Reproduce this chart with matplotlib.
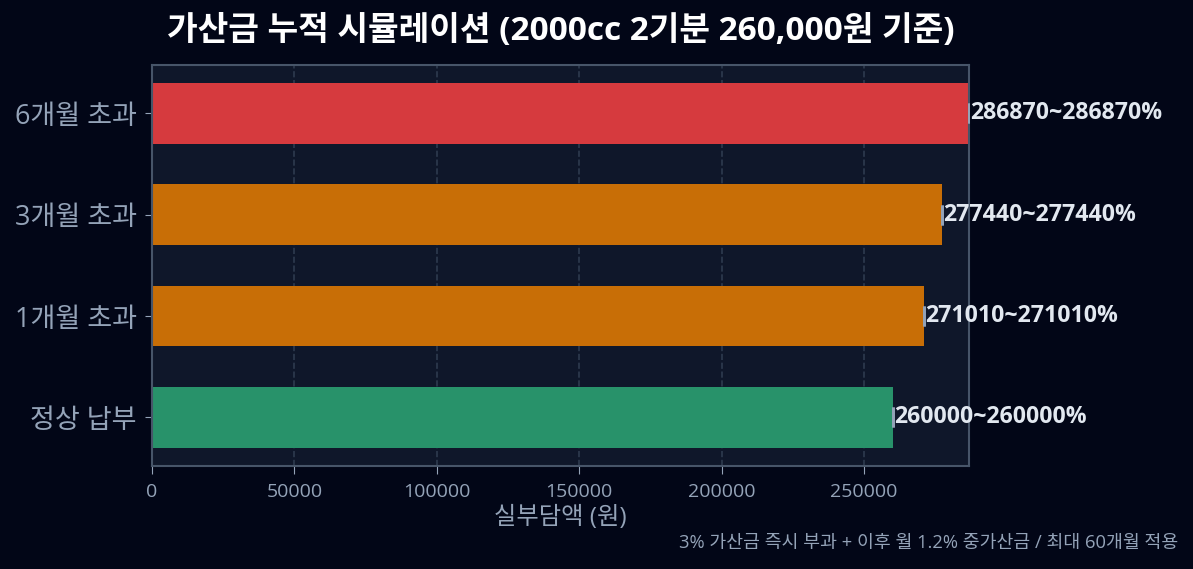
import numpy as np
import matplotlib
matplotlib.use('Agg')
import matplotlib.pyplot as plt

plt.rcParams['font.family'] = ['Open Sans', 'Noto Sans CJK KR', 'DejaVu Sans']

# 데이터
categories = ['정상 납부', '1개월 초과', '3개월 초과', '6개월 초과']
amounts = [260000, 271010, 277440, 286870]
low = [260000, 271010, 277440, 286870]
high = [260000, 271010, 277440, 286870]
colors = ['#28926a', '#c86e06', '#c86e06', '#d63a3e']

BG = '#020617'
AX_BG = '#0f172a'
SPINE = '#475569'
TXT = '#94a3b8'

fig, ax = plt.subplots(figsize=(11.93, 5.69), dpi=100)
fig.patch.set_facecolor(BG)
ax.set_facecolor(AX_BG)

y = np.arange(len(categories))
xerr = [np.array(amounts) - np.array(low), np.array(high) - np.array(amounts)]
ax.barh(y, amounts, height=0.6, color=colors, zorder=2)
ax.errorbar(amounts, y, xerr=xerr, fmt='none', ecolor=TXT, elinewidth=2,
            capsize=7, capthick=2, zorder=3)

for yi, v, lo, hi in zip(y, amounts, low, high):
    ax.annotate(f'{lo}~{hi}%', xy=(v, yi), xytext=(1, 0), textcoords='offset points',
                va='center', ha='left', color='#e2e8f0', fontsize=16.7,
                fontweight='bold', annotation_clip=False)

ax.set_yticks(y)
ax.set_yticklabels(categories)
ax.set_xlim(0, max(amounts))
ax.grid(axis='x', color='#334155', linestyle='--', linewidth=1.2, alpha=0.85, zorder=0)

ax.tick_params(axis='y', colors=TXT, labelsize=19.5, length=5, pad=6)
ax.tick_params(axis='x', colors=TXT, labelsize=14, length=6, pad=6)
for s in ax.spines.values():
    s.set_color(SPINE)
    s.set_linewidth(1.5)

ax.set_xlabel('실부담액 (원)', color=TXT, fontsize=17.5, labelpad=4)
ax.set_title('가산금 누적 시뮬레이션 (2000cc 2기분 260,000원 기준)', color='white',
             fontsize=24, fontweight='bold', pad=18)
fig.text(0.988, 0.03, '3% 가산금 즉시 부과 + 이후 월 1.2% 중가산금 / 최대 60개월 적용',
         ha='right', va='bottom', color=TXT, fontsize=13.2)

fig.subplots_adjust(left=0.1274, right=0.8123, top=0.886, bottom=0.181)
fig.savefig('out.png', dpi=100, facecolor=BG)
